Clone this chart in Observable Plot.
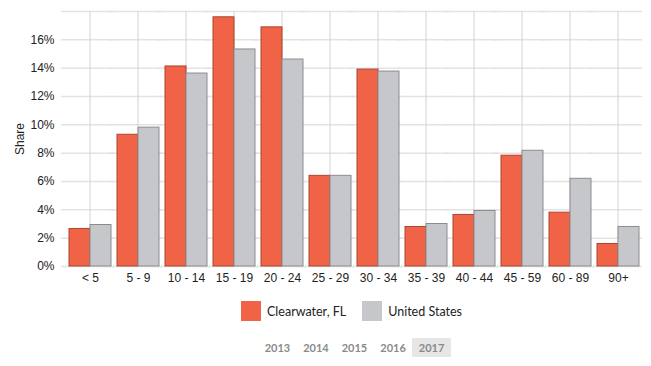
<!DOCTYPE html>
<html>
<head>
<meta charset="utf-8">
<script src="https://cdn.jsdelivr.net/npm/d3@7"></script>
<script src="https://cdn.jsdelivr.net/npm/@observablehq/plot@0.6"></script>
<style>
  body { margin: 0; background: #fff; }
  #chart svg { display: block; }
  #chart svg text { font-family: "Liberation Sans", Arial, sans-serif; font-size: 12px; fill: #222; }
  .legend { display: flex; justify-content: center; align-items: center; height: 22px; margin-top: 10px; padding-left: 52px; font-family: Lato, "Open Sans", sans-serif; font-size: 12.5px; color: #222; }
  .legend .item { display: flex; align-items: center; margin: 0 8px; }
  .legend .sw { width: 20px; height: 20px; margin-right: 6px; }
  .years { display: flex; justify-content: center; margin-top: 16px; padding-left: 58px; font-family: Lato, "Open Sans", sans-serif; font-weight: bold; font-size: 11px; color: #8a8a8a; }
  .years span { padding: 3px 7px; margin: 0 -0.5px; line-height: 13px; }
  .years span.sel { background: #e6e6e6; }
</style>
</head>
<body>
<div id="chart"></div>
<div class="legend" id="legend"></div>
<div class="years" id="years"></div>
<script>
const ages = ["< 5", "5 - 9", "10 - 14", "15 - 19", "20 - 24", "25 - 29", "30 - 34", "35 - 39", "40 - 44", "45 - 59", "60 - 89", "90+"];
const seriesNames = ["Clearwater, FL", "United States"];
const clearwater = [2.65, 9.3, 14.12, 17.59, 16.88, 6.4, 13.9, 2.79, 3.64, 7.82, 3.8, 1.59];
const unitedStates = [2.93, 9.8, 13.62, 15.32, 14.61, 6.4, 13.76, 3.0, 3.92, 8.17, 6.19, 2.79];
const yTicks = [0, 2, 4, 6, 8, 10, 12, 14, 16];
const gridTicks = [0, 2, 4, 6, 8, 10, 12, 14, 16, 18];
const years = ["2013", "2014", "2015", "2016", "2017"];
const selectedYear = "2017";
const fills = ["#F06346", "#C6C7CA"];
const strokes = ["#a9452f", "#8c8c8c"];

const rows = [];
ages.forEach((a, i) => {
  rows.push({age: a, series: seriesNames[0], value: clearwater[i]});
  rows.push({age: a, series: seriesNames[1], value: unitedStates[i]});
});

const chart = Plot.plot({
  width: 651,
  height: 290,
  marginLeft: 63,
  marginRight: 6,
  marginTop: 11,
  marginBottom: 24,
  style: {fontFamily: "'Liberation Sans', Arial, sans-serif", fontSize: "12px", color: "#222"},
  fx: {domain: ages, padding: 0, label: null, tickSize: 0, tickPadding: 7},
  x: {domain: seriesNames, paddingInner: 0, paddingOuter: 0.1, axis: null},
  y: {domain: [0, 18], ticks: yTicks, tickFormat: d => d + "%", label: "Share", labelArrow: "none", labelAnchor: "center", labelOffset: 51, tickSize: 0, tickPadding: 12},
  color: {domain: seriesNames, range: fills},
  marks: [
    Plot.ruleY(gridTicks, {stroke: "#e3e3e3", strokeWidth: 1.5, insetLeft: -5}),
    Plot.ruleX(rows.filter(d => d.series === seriesNames[1]), {x: "series", dx: -11, stroke: "#d2d2d2", strokeWidth: 1, fx: "age", y1: 0, y2: 18}),
    Plot.barY(rows, {fx: "age", x: "series", y: "value", fill: "series", stroke: d => strokes[seriesNames.indexOf(d.series)], strokeWidth: 1})
  ]
});
document.getElementById("chart").appendChild(chart);

const lg = document.getElementById("legend");
seriesNames.forEach((s, i) => {
  const it = document.createElement("div");
  it.className = "item";
  it.innerHTML = `<div class="sw" style="background:${fills[i]}"></div><span>${s}</span>`;
  lg.appendChild(it);
});
const yr = document.getElementById("years");
years.forEach(y => {
  const s = document.createElement("span");
  s.textContent = y;
  if (y === selectedYear) s.className = "sel";
  yr.appendChild(s);
});
</script>
</body>
</html>
